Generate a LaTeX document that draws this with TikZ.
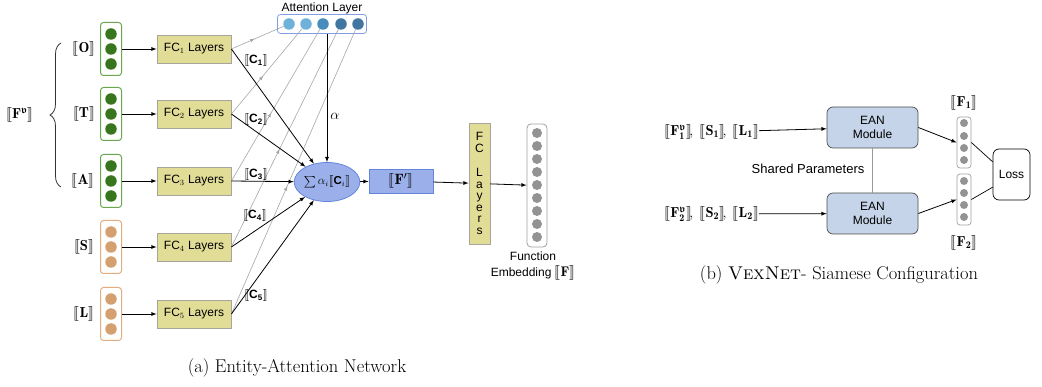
\documentclass[tikz,border=0pt]{standalone}
\usepackage{amsmath,amsfonts,amssymb,stmaryrd}
\usepackage{fontspec}
\setsansfont{Liberation Sans}
\usepackage{xcolor}
\definecolor{Col1}{RGB}{56,118,29}
\definecolor{Col2}{RGB}{106,168,79}
\definecolor{Col3}{RGB}{212,160,112}
\definecolor{Col4}{RGB}{226,172,128}
\definecolor{Col5}{RGB}{226,221,150}
\definecolor{Col6}{RGB}{165,165,155}
\definecolor{Col7}{RGB}{155,176,234}
\definecolor{Col8}{RGB}{100,132,222}
\definecolor{Col9}{RGB}{110,178,218}
\definecolor{Col10}{RGB}{70,140,188}
\definecolor{Col11}{RGB}{65,118,160}
\definecolor{Col12}{RGB}{197,212,232}
\usepackage{tikz}
\usetikzlibrary{shapes}
\usetikzlibrary{decorations.pathreplacing,decorations.markings}
\newcommand{\Enc}[1]{\llbracket #1\rrbracket}
\newcommand{\CB}[1]{\Enc{\textsf{\textbf{C}}_{\textsf{\textbf{#1}}}}}
\newcommand{\FV}[1]{\Enc{\mathbf{F}_{\mathbf{#1}}^{\boldsymbol{\mathfrak{v}}}}}
\tikzstyle{VecBox}=[draw,rounded corners=3pt,line width=1pt,minimum width=21pt,
minimum height=53pt,inner sep=0pt]
\tikzstyle{Dot}=[circle,inner sep=0pt,minimum size=11.5pt]
\tikzstyle{GrayDot}=[circle,inner sep=0pt,minimum size=9pt,fill=gray!85]
\tikzstyle{FCBox}=[draw=Col6,fill=Col5,line width=0.8pt,minimum width=74pt,
minimum height=28pt,inner sep=1pt,font=\sffamily\fontsize{12}{13}\selectfont]
\tikzstyle{BlueBox}=[draw=Col8,fill=Col7,line width=0.8pt,inner sep=0pt]
\tikzstyle{EANBox}=[draw=black!70,fill=Col12,rounded corners=6pt,line width=0.7pt,
minimum width=91pt,minimum height=41pt,align=center,
font=\sffamily\fontsize{12}{13.5}\selectfont]
\tikzstyle{Edge}=[draw=black,line width=0.8pt,-latex]
\tikzstyle{AttEdge}=[color=gray!70,line width=0.6pt,postaction={decorate},
decoration={markings,mark=at position 0.45 with {\arrow{latex}}}]
\tikzstyle{Brace}=[decorate,decoration={brace,amplitude=11pt},line width=0.8pt,black!80]
\tikzstyle{NodeST}=[inner sep=0pt,font=\fontsize{14.5}{16}\selectfont]
\tikzstyle{NodeSC}=[inner sep=0pt,font=\fontsize{12}{13}\selectfont]
\tikzstyle{NodeSS}=[inner sep=0pt,font=\sffamily\fontsize{12}{13.5}\selectfont]
\tikzstyle{Caption}=[inner sep=0pt,font=\fontsize{18.5}{20}\selectfont]

\begin{document}
\begin{tikzpicture}[x=1pt,y=-1pt]
        \useasboundingbox(0,0)rectangle(1042,387);
        \node[NodeST](fv)at(20,115){$\Enc{\mathbf{F}^{\boldsymbol{\mathfrak{v}}}}$};
        \draw[Brace](61,187)--(61,43);
        \node[NodeST](lo)at(84,49){$\Enc{\mathbf{O}}$};
        \node[NodeST](lt)at(84,114){$\Enc{\mathbf{T}}$};
        \node[NodeST](la)at(83,181){$\Enc{\mathbf{A}}$};
        \node[NodeST](ls)at(84,247){$\Enc{\mathbf{S}}$};
        \node[NodeST](ll)at(84,314){$\Enc{\mathbf{L}}$};
        \foreach \n/\y/\d/\b/\k in {o/49/Col1/Col2/1,t/114/Col1/Col2/2,
            a/181/Col1/Col2/3,s/247/Col3/Col4/4,l/314/Col3/Col4/5}{
            \node[VecBox,draw=\b](v\n)at(111,\y){};
            \foreach \j/\m in {-15/1,0/2,15/3}
                \node[Dot,fill=\d](v\n\m)at(111,{\y+(\j)}){};
            \node[FCBox](fc\k)at(194,\y){FC$_{\k}$ Layers};
            \draw[Edge](v\n)--(fc\k);
        }
        \node[draw=Col8!80,rounded corners=3pt,line width=0.8pt,minimum width=89pt,
            minimum height=19pt](att)at(322,24){};
        \node[NodeSS](attl)at(322,8){Attention Layer};
        \foreach \i/\x/\c in {1/289/Col9,2/306/Col9,3/323/Col10,4/341/Col11,5/358/Col11}
            \node[Dot,fill=\c](ad\i)at(\x,24){};
        \node[BlueBox,ellipse,minimum width=49pt,minimum height=39pt](sum)at(327,182)
            {\fontsize{11.5}{12}\selectfont$\sum\alpha_i\Enc{\textsf{\textbf{C}}_i}$};
        \foreach \i in {1,...,5}
            \draw[AttEdge](fc\i.east)--(ad\i);
        \foreach \i in {1,...,5}
            \draw[Edge](fc\i.east)--(sum);
        \draw[Edge](sum|-att.south)--(sum);
        \node[inner sep=0pt,font=\fontsize{15}{16}\selectfont](alpha)at(335,116){$\alpha$};
        \node[NodeSC](c1)at(256,61){$\CB{1}$};
        \node[NodeSC](c2)at(256,120){$\CB{2}$};
        \node[NodeSC](c3)at(256,175){$\CB{3}$};
        \node[NodeSC](c4)at(255,216){$\CB{4}$};
        \node[NodeSC](c5)at(256,296){$\CB{5}$};
        \node[BlueBox,minimum width=64pt,minimum height=24pt,
            font=\fontsize{15}{16}\selectfont](fp)at(401,181){$\Enc{\mathbf{F}'}$};
        \node[FCBox,minimum width=21pt,minimum height=121pt,align=center,
            font=\sffamily\fontsize{12}{11.5}\selectfont](fcv)at(479.5,183.5)
            {F\\C\\[13pt]L\\a\\y\\e\\r\\s};
        \node[draw=gray!75,rounded corners=4pt,line width=0.8pt,minimum width=20pt,
            minimum height=123pt,inner sep=0pt](out)at(537,185.5){};
        \foreach \i in {0,...,8}
            \node[GrayDot,minimum size=10pt](od\i)at(537,{133+13*\i}){};
        \draw[Edge](sum)--(fp);
        \draw[Edge](fp)--(fcv);
        \draw[Edge](fcv)--(out);
        \node[NodeSS,align=center](fe)at(533,266)
            {Function\\[2pt]Embedding \fontsize{14}{15}\selectfont$\Enc{\mathbf{F}}$};
        \node[Caption](capa)at(297,368){(a) Entity-Attention Network};
        \node[NodeST,anchor=east](in1)at(759,132)
            {$\FV{1}\!,\;\Enc{\mathbf{S_1}}\!,\;\Enc{\mathbf{L_1}}$};
        \node[NodeST,anchor=east](in2)at(759,214)
            {$\FV{2}\!,\;\Enc{\mathbf{S_2}}\!,\;\Enc{\mathbf{L_2}}$};
        \node[EANBox](ean1)at(872.5,127.5){EAN\\Module};
        \node[EANBox](ean2)at(872.5,213.5){EAN\\Module};
        \draw[draw=gray!80,line width=0.7pt](ean1)--(ean2);
        \node[NodeSS,font=\sffamily\fontsize{13}{14}\selectfont](sp)at(808,169){Shared Parameters};
        \node[draw=gray!75,rounded corners=3pt,line width=0.7pt,minimum width=14pt,
            minimum height=51pt,inner sep=0pt](vec1)at(964,142.5){};
        \node[draw=gray!75,rounded corners=3pt,line width=0.7pt,minimum width=14pt,
            minimum height=51pt,inner sep=0pt](vec2)at(964,199.5){};
        \foreach \i/\y in {1/123,2/136,3/148,4/160}
            \node[GrayDot,minimum size=8pt](d1\i)at(964,\y){};
        \foreach \i/\y in {1/181,2/193,3/205,4/217}
            \node[GrayDot,minimum size=8pt](d2\i)at(964,\y){};
        \node[NodeST](f1)at(964,103){$\Enc{\mathbf{F_1}}$};
        \node[NodeST](f2)at(964,243){$\Enc{\mathbf{F_2}}$};
        \node[draw,rounded corners=6pt,line width=0.7pt,minimum width=37pt,
            minimum height=51pt,font=\sffamily\fontsize{12}{13}\selectfont](loss)at(1011.5,174.5){Loss};
        \draw[Edge](in1)--(ean1);
        \draw[Edge](in2)--(ean2);
        \draw[Edge](ean1.east)--(vec1.west);
        \draw[Edge](ean2.east)--(vec2.west);
        \draw[line width=0.7pt](vec1.east)--(loss.146);
        \draw[line width=0.7pt](vec2.east)--(loss.214);
        \node[Caption](capb)at(839,275){(b) \textsc{VexNet}- Siamese Configuration};
    \end{tikzpicture}
\end{document}
